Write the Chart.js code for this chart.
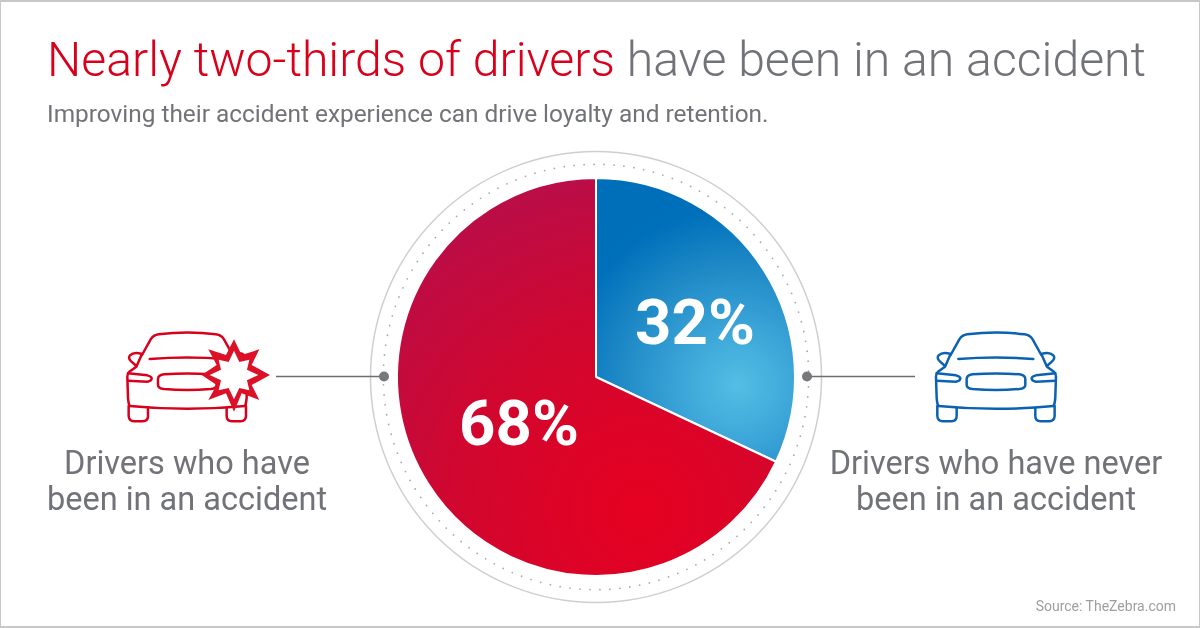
<!DOCTYPE html>
<html>
<head>
<meta charset="utf-8">
<title>Drivers in accidents</title>
<script src="https://cdn.jsdelivr.net/npm/chart.js@4"></script>
<style>
  html, body { margin: 0; padding: 0; background: #fff; }
  #page { position: relative; width: 1200px; height: 628px; overflow: hidden; font-family: Roboto, sans-serif; color: #717378; background: #fff; }
  #page .frame { position: absolute; inset: 0; border: 1px solid #c8c8c8; border-top-width: 2px; border-bottom-width: 2px; box-sizing: border-box; pointer-events: none; }
  canvas { position: absolute; left: 0; top: 0; }
  .txt { position: absolute; white-space: nowrap; }
  #title { left: 47px; top: 32px; font-size: 48.2px; font-weight: 300; line-height: 56px; }
  #title span { color: #d9001b; }
  #subtitle { left: 47px; top: 99px; font-size: 24.4px; line-height: 30px; }
  .side { font-size: 32.5px; line-height: 36px; text-align: center; width: 340px; top: 445px; }
  #sideLeft { left: 17px; }
  #sideRight { left: 826px; }
  #source { right: 24px; top: 597px; font-size: 14px; line-height: 18px; color: #9c9ea1; }
  svg { position: absolute; left: 0; top: 0; }
</style>
</head>
<body>
<div id="page">
  <canvas id="pie" width="1200" height="628"></canvas>
  <svg width="1200" height="628" viewBox="0 0 1200 628">
    <defs>
      <g id="car" fill="none" stroke-width="7.5" stroke-linecap="round" stroke-linejoin="round">
        <path d="M512 135 L538 88 Q546 75 562 73 Q648 62 734 73 Q750 75 758 88 L784 135" />
        <path d="M512 132 Q488 124 476 136 Q468 146 484 158 L495 168 M784 132 Q808 124 820 136 Q828 146 812 158 L801 168" />
        <path d="M512 132 L495 170 L474 185 Q468 190 468 200 L470 262 Q471 280 475 288 M784 132 L801 170 L822 185 Q828 190 828 200 L826 262 Q825 280 821 288" />
        <path d="M475 288 Q648 305 821 288" />
        <path d="M472 288 L472 318 Q473 333 488 334 L514 334 Q530 333 530 318 L530 294 M824 288 L824 318 Q823 333 808 334 L782 334 Q766 333 766 318 L766 294" />
        <path d="M470 190 L528 196 Q542 200 541 206 Q540 213 528 215 L470 212 M826 190 L768 196 Q754 200 755 206 Q756 213 768 215 L826 212" />
        <path d="M578 193 Q648 188 718 193 Q736 195 736 208 L736 224 Q736 235 718 237 Q648 243 578 237 Q560 235 560 224 L560 208 Q560 195 578 193 Z" />
        <path d="M535 147 Q648 138 760 147" />
      </g>
    </defs>
    <!-- left car with the crash burst -->
    <g transform="translate(100 310) scale(0.3333) translate(-386 0)" stroke="#d9001b"><use href="#car" /></g>
    <g transform="translate(100 310) scale(0.3333)">
      <polygon fill="#dc1128" points="402,88 425,135 478,118 455,165 510,195 455,225 478,270 425,250 402,305 378,250 325,270 350,225 305,195 350,165 325,118 378,135" />
      <polygon fill="#fff" points="402,122 418,156 448,149 441,179 475,195 441,211 448,241 418,234 402,268 386,234 356,241 363,211 329,195 363,179 356,149 386,156" />
    </g>
    <!-- right car -->
    <g transform="translate(780 310) scale(0.3333)" stroke="#0b62b0"><use href="#car" /></g>
    <!-- leader lines -->
    <line x1="276" y1="376.5" x2="384" y2="376.5" stroke="#6d6e71" stroke-width="1.6" />
    <circle cx="384" cy="376.5" r="5" fill="#77787b" />
    <line x1="807" y1="376.5" x2="915" y2="376.5" stroke="#6d6e71" stroke-width="1.6" />
    <circle cx="807" cy="376.5" r="5" fill="#77787b" />
  </svg>
  <div class="txt" id="title"><span>Nearly two-thirds of drivers</span> have been in an accident</div>
  <div class="txt" id="subtitle">Improving their accident experience can drive loyalty and retention.</div>
  <div class="txt side" id="sideLeft">Drivers who have<br>been in an accident</div>
  <div class="txt side" id="sideRight">Drivers who have never<br>been in an accident</div>
  <div class="txt" id="source">Source: TheZebra.com</div>
  <div class="frame"></div>
</div>
<script>
// Chart values
const categories = ['Drivers who have never been in an accident', 'Drivers who have been in an accident'];
const shares = [32, 68];
const shareLabels = ['32%', '68%'];

// Nudge of each percentage away from the slice's centre point
const labelNudges = [[15, 4], [7, -1]];

const ctx = document.getElementById('pie').getContext('2d');

// Radial fills that mimic the shading of the slices
const blueFill = ctx.createRadialGradient(738, 385, 0, 738, 385, 195);
blueFill.addColorStop(0, '#54bee5');
blueFill.addColorStop(0.3, '#3ba5d8');
blueFill.addColorStop(0.6, '#1f8ac6');
blueFill.addColorStop(0.9, '#0070bb');
blueFill.addColorStop(1, '#006fba');

const redFill = ctx.createRadialGradient(640, 510, 0, 640, 510, 420);
redFill.addColorStop(0, '#e60020');
redFill.addColorStop(0.45, '#d0072f');
redFill.addColorStop(1, '#ae1055');

// Grey ring and dotted ring behind the pie
const ringPlugin = {
    id: 'rings',
    beforeDatasetsDraw(chart) {
        const arc = chart.getDatasetMeta(0).data[0];
        const c = chart.ctx;
        c.save();
        c.strokeStyle = '#cfcfcf';
        c.lineWidth = 1.5;
        c.beginPath();
        c.arc(arc.x, arc.y, 225.5, 0, Math.PI * 2);
        c.stroke();
        c.strokeStyle = '#aaaaaa';
        c.lineWidth = 1.8;
        c.lineCap = 'round';
        c.setLineDash([0, 10]);
        c.beginPath();
        c.arc(arc.x, arc.y, 212.7, 0, Math.PI * 2);
        c.stroke();
        c.restore();
    }
};

// Percentages on top of the slices
const labelPlugin = {
    id: 'shareLabels',
    afterDatasetsDraw(chart) {
        const c = chart.ctx;
        c.save();
        c.fillStyle = '#fff';
        c.font = '700 63.5px Roboto, sans-serif';
        c.textAlign = 'center';
        c.textBaseline = 'middle';
        chart.getDatasetMeta(0).data.forEach((arc, i) => {
            const p = arc.getCenterPoint();
            c.fillText(shareLabels[i], p.x + labelNudges[i][0], p.y + labelNudges[i][1]);
        });
        c.restore();
    }
};

new Chart(ctx, {
    type: 'pie',
    data: {
        labels: categories,
        datasets: [{
            data: shares,
            backgroundColor: [blueFill, redFill],
            borderColor: '#fff',
            borderWidth: 2
        }]
    },
    options: {
        responsive: false,
        animation: false,
        layout: { padding: { left: 396, right: 404, top: 177, bottom: 51 } },
        plugins: { legend: { display: false }, tooltip: { enabled: false } }
    },
    plugins: [ringPlugin, labelPlugin]
});
</script>
</body>
</html>
